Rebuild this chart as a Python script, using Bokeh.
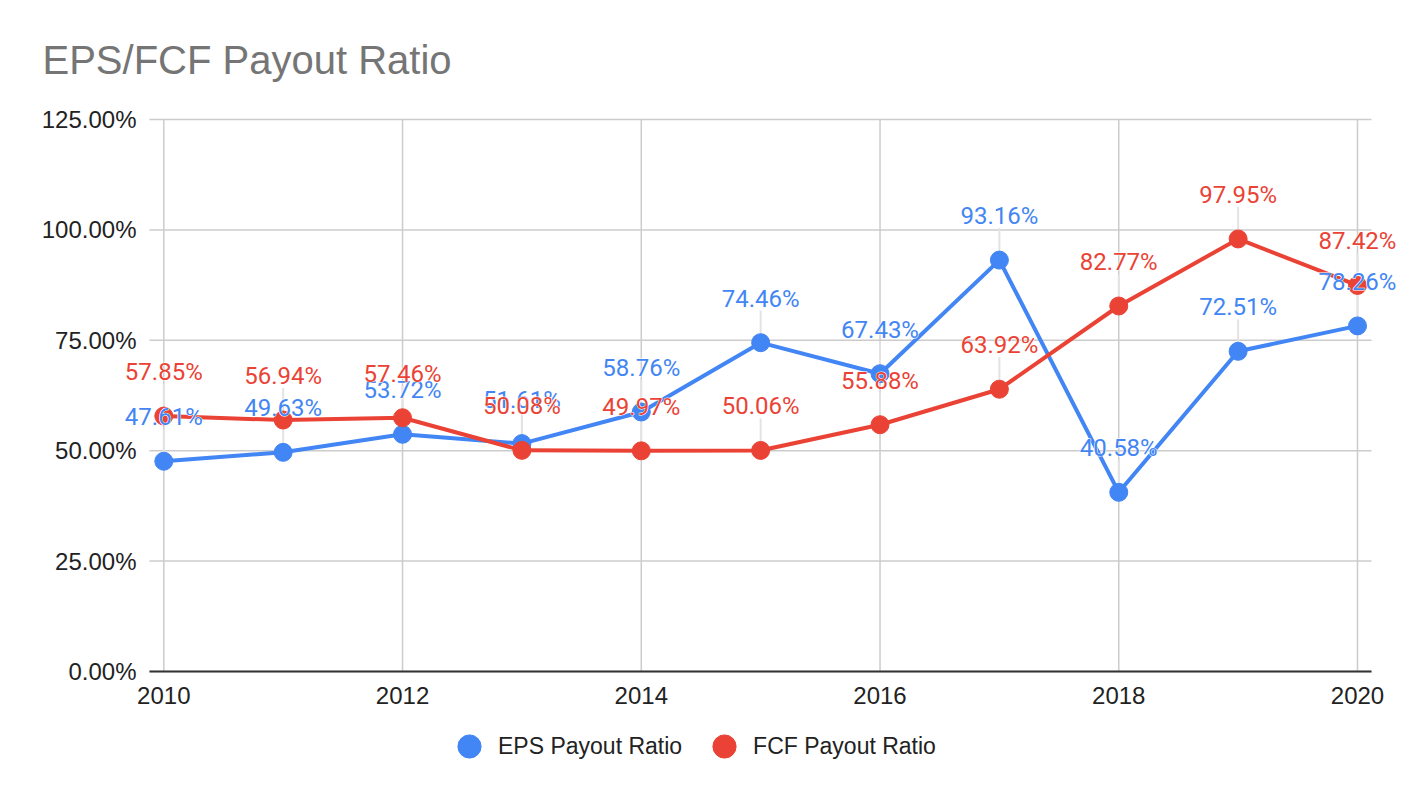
from bokeh.plotting import figure
from bokeh.models import ColumnDataSource, Legend, LegendItem, Range1d, Label
from bokeh.embed import file_html
from bokeh.resources import INLINE
from bokeh.core.properties import value

years = [2010, 2011, 2012, 2013, 2014, 2015, 2016, 2017, 2018, 2019, 2020]
eps_ratio = [47.61, 49.63, 53.72, 51.61, 58.76, 74.46, 67.43, 93.16, 40.58, 72.51, 78.26]
fcf_ratio = [57.85, 56.94, 57.46, 50.08, 49.97, 50.06, 55.88, 63.92, 82.77, 97.95, 87.42]
y_ticks = [0, 25, 50, 75, 100, 125]
x_ticks = [2010, 2012, 2014, 2016, 2018, 2020]
series_names = ["EPS Payout Ratio", "FCF Payout Ratio"]
title_text = "EPS/FCF Payout Ratio"

BLUE = "#4285F4"
RED = "#EA4335"
GRID = "#cccccc"

# canvas geometry (pixels)
W, H = 1408, 796
X_FIRST_PX, X_LAST_PX = 163.3, 1357.0      # where first / last year sit
PLOT_L, PLOT_R = 149.0, 1371.0
ZERO_PX, TOP_PX = 671.0, 119.0              # y of 0% and of the top tick
k = (X_LAST_PX - X_FIRST_PX) / (years[-1] - years[0])   # px per year
u = (ZERO_PX - TOP_PX) / y_ticks[-1]                     # px per percent

x0 = years[0] - X_FIRST_PX / k
x1 = years[0] + (W - X_FIRST_PX) / k
y1 = ZERO_PX / u
y0 = -(H - ZERO_PX) / u
x_left = years[0] - (X_FIRST_PX - PLOT_L) / k
x_right = years[-1] + (PLOT_R - X_LAST_PX) / k

p = figure(width=W, height=H, output_backend="svg", toolbar_location=None,
           x_range=Range1d(x0, x1), y_range=Range1d(y0, y1),
           x_axis_location=None, y_axis_location=None, min_border=0)
p.outline_line_color = None
p.grid.visible = False
p.background_fill_color = "white"
p.border_fill_color = "white"

# grid
p.segment(x0=x_left, x1=x_right, y0=y_ticks, y1=y_ticks,
          line_color=GRID, line_width=1.5)
p.segment(x0=x_ticks, x1=x_ticks, y0=0, y1=y_ticks[-1],
          line_color=GRID, line_width=1.5)
# x axis line
p.segment(x0=[x_left], x1=[x_right], y0=[0], y1=[0],
          line_color="#333333", line_width=2)

# tick labels
p.text(x=x_left, y=y_ticks, text=[f"{t:.2f}%" for t in y_ticks],
       x_offset=-13, text_align="right", text_baseline="middle",
       text_font=value("Liberation Sans"), text_font_size="24px",
       text_color="#222222")
p.text(x=x_ticks, y=0, text=[str(t) for t in x_ticks],
       y_offset=24, text_align="center", text_baseline="middle",
       text_font=value("Liberation Sans"), text_font_size="24px",
       text_color="#222222")

lead = 32 / u
src = ColumnDataSource(dict(
    x=years, eps=eps_ratio, fcf=fcf_ratio,
    eps_top=[v + lead for v in eps_ratio],
    fcf_top=[v + lead for v in fcf_ratio],
    eps_lab=[f"{v:.2f}%" for v in eps_ratio],
    fcf_lab=[f"{v:.2f}%" for v in fcf_ratio],
))

# leader lines
p.segment(x0="x", y0="eps", x1="x", y1="eps_top", source=src,
          line_color="#e3e3e3", line_width=2)
p.segment(x0="x", y0="fcf", x1="x", y1="fcf_top", source=src,
          line_color="#e3e3e3", line_width=2)

p.line("x", "eps", source=src, line_color=BLUE, line_width=4)
s1 = p.scatter("x", "eps", source=src, size=18, fill_color=BLUE, line_color=BLUE)
p.line("x", "fcf", source=src, line_color=RED, line_width=4)
s2 = p.scatter("x", "fcf", source=src, size=18, fill_color=RED, line_color=RED)

for col, ycol, color in (("eps_lab", "eps", BLUE), ("fcf_lab", "fcf", RED)):
    p.text("x", ycol, text=col, source=src, text_color="white",
           text_font=value("Roboto"), text_font_size="24px",
           text_align="center", text_baseline="middle", y_offset=-44,
           text_outline_color="white")
    p.text("x", ycol, text=col, source=src, text_color=color,
           text_font=value("Roboto"), text_font_size="24px",
           text_align="center", text_baseline="middle", y_offset=-44)

# title
p.add_layout(Label(x=42, y=H - 59, x_units="screen", y_units="screen",
                   text=title_text, text_font="Liberation Sans",
                   text_font_size="40px", text_color="#757575",
                   text_baseline="alphabetic"))

legend = Legend(items=[LegendItem(label=series_names[0], renderers=[s1]),
                       LegendItem(label=series_names[1], renderers=[s2])],
                orientation="horizontal", location=(440, H - 775),
                glyph_width=58, glyph_height=58, label_standoff=0,
                spacing=13, padding=0, margin=0,
                border_line_color=None, background_fill_alpha=0,
                label_text_font="Liberation Sans", label_text_font_size="23px",
                label_text_color="#222222", label_text_baseline="middle")
p.add_layout(legend, "center")

open("out.html", "w").write(file_html(p, INLINE))
